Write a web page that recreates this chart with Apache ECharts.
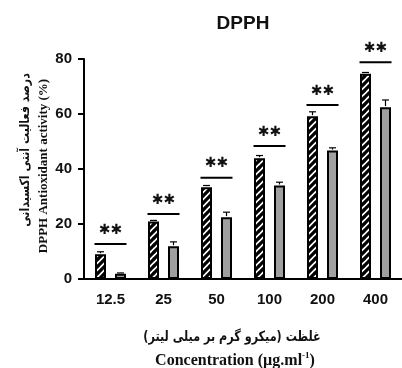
<!DOCTYPE html>
<html><head><meta charset="utf-8">
<script src="https://cdn.jsdelivr.net/npm/echarts@6/dist/echarts.min.js"></script>
<style>html,body{margin:0;padding:0;background:#fff}#c{width:402px;height:368px}</style>
</head><body><div id="c"></div>
<script>
const categories = ['12.5', '25', '50', '100', '200', '400'];
const hatchedValues = [9.0, 20.9, 33.4, 43.9, 59.2, 74.6];
const hatchedErrors = [0.9, 0.4, 0.6, 1.0, 1.6, 0.5];
const grayValues = [1.9, 11.9, 22.5, 34.0, 46.7, 62.5];
const grayErrors = [0.3, 1.6, 1.8, 1.2, 1.0, 2.6];
const sigLineValues = [12.7, 23.6, 36.8, 48.4, 63.3, 78.8];
const sigLabel = '✱✱';
const yTicks = [0, 20, 40, 60, 80];

function hatchPattern() {
  const s = 7;
  const cv = document.createElement('canvas');
  cv.width = s; cv.height = s;
  const ctx = cv.getContext('2d');
  ctx.fillStyle = '#fff'; ctx.fillRect(0, 0, s, s);
  ctx.strokeStyle = '#000'; ctx.lineWidth = 3.2;
  ctx.beginPath();
  ctx.moveTo(-1, 1); ctx.lineTo(1, -1);
  ctx.moveTo(0, s); ctx.lineTo(s, 0);
  ctx.moveTo(s - 1, s + 1); ctx.lineTo(s + 1, s - 1);
  ctx.stroke();
  return cv;
}

const barW = 11, gapPx = 9;
const off = (barW + gapPx) / 2;

const chart = echarts.init(document.getElementById('c'));
const errData = [];
categories.forEach((c, i) => {
  errData.push([i, hatchedValues[i], hatchedErrors[i], -1]);
  errData.push([i, grayValues[i], grayErrors[i], 1]);
});
const sigData = sigLineValues.map((v, i) => [i, v]);

chart.setOption({
  animation: false,
  grid: { left: 84, right: -2, top: 59, bottom: 89 },
  xAxis: {
    type: 'category', data: categories,
    axisLine: { lineStyle: { color: '#000', width: 2 } },
    axisTick: { alignWithLabel: true, length: 8, lineStyle: { color: '#000', width: 2 } },
    axisLabel: { color: '#111', fontSize: 15, fontWeight: 'bold', fontFamily: 'Liberation Sans', margin: 13 }
  },
  yAxis: {
    type: 'value', min: yTicks[0], max: yTicks[yTicks.length - 1], interval: 20,
    splitLine: { show: false },
    axisLine: { show: true, lineStyle: { color: '#000', width: 2 } },
    axisTick: { show: true, length: 6, lineStyle: { color: '#000', width: 2 } },
    axisLabel: { color: '#111', fontSize: 15, fontWeight: 'bold', fontFamily: 'Liberation Sans', margin: 12 }
  },
  series: [
    { type: 'bar', data: hatchedValues, barWidth: barW, barGap: (gapPx / barW * 100) + '%',
      itemStyle: { color: { image: hatchPattern(), repeat: 'repeat' }, borderColor: '#000', borderWidth: 2 } },
    { type: 'bar', data: grayValues, barWidth: barW,
      itemStyle: { color: '#a0a0a0', borderColor: '#000', borderWidth: 2 } },
    { type: 'custom', data: errData, z: 1,
      renderItem: function (params, api) {
        const c = api.coord([api.value(0), api.value(1)]);
        const t = api.coord([api.value(0), api.value(1) + api.value(2)]);
        const x = c[0] + api.value(3) * off;
        return { type: 'group', children: [
          { type: 'line', shape: { x1: x, y1: c[1] - 1, x2: x, y2: t[1] }, style: { stroke: '#000', lineWidth: 1.2 } },
          { type: 'line', shape: { x1: x - 3.5, y1: t[1], x2: x + 3.5, y2: t[1] }, style: { stroke: '#000', lineWidth: 1.2 } }
        ]};
      } },
    { type: 'custom', data: sigData,
      renderItem: function (params, api) {
        const c = api.coord([api.value(0), api.value(1)]);
        return { type: 'group', children: [
          { type: 'line', shape: { x1: c[0] - 16, y1: c[1], x2: c[0] + 16, y2: c[1] }, style: { stroke: '#000', lineWidth: 2 } },
          { type: 'text', x: c[0], y: c[1] - 14, style: { text: sigLabel, fill: '#111', font: 'bold 14px "DejaVu Sans"', align: 'center', verticalAlign: 'middle' } }
        ]};
      } }
  ],
  graphic: [
    { type: 'text', x: 243, y: 24, style: { text: 'DPPH', fill: '#111', font: 'bold 19px "Liberation Sans"', align: 'center', verticalAlign: 'middle' } },
    { type: 'text', x: 26, y: 150, rotation: Math.PI / 2, scaleX: 0.85, style: { text: 'درصد فعالیت آنتی اکسیدانی\u200F', fill: '#111', font: 'bold 13px "DejaVu Sans"', align: 'center', verticalAlign: 'middle' } },
    { type: 'text', x: 44, y: 166, rotation: Math.PI / 2, style: { text: 'DPPH Antioxidant activity (%)', fill: '#111', font: 'bold 13px "Liberation Serif"', align: 'center', verticalAlign: 'middle' } },
    { type: 'text', x: 232, y: 337, scaleX: 0.8, style: { text: 'غلظت (میکرو گرم بر میلی لیتر)\u200F', fill: '#111', font: 'bold 14px "DejaVu Sans"', align: 'center', verticalAlign: 'middle' } },
    { type: 'text', x: 235, y: 360, style: {
        text: '{m|Concentration (µg.ml}{s|-1}{m|)}', align: 'center', verticalAlign: 'middle',
        rich: {
          m: { fontSize: 16, fontWeight: 'bold', fontFamily: 'Liberation Serif', fill: '#111', lineHeight: 18, verticalAlign: 'bottom' },
          s: { fontSize: 9, fontWeight: 'bold', fontFamily: 'Liberation Serif', fill: '#111', lineHeight: 18, verticalAlign: 'top' }
        } } }
  ]
});
</script></body></html>
